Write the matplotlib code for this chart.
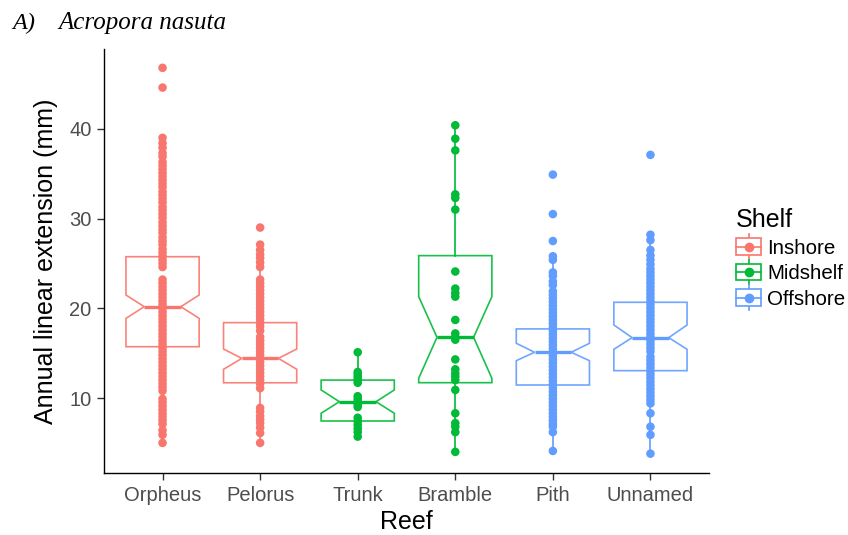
import matplotlib
matplotlib.use("Agg")
import matplotlib.pyplot as plt
from matplotlib.legend_handler import HandlerBase
from matplotlib.patches import Rectangle
from matplotlib.lines import Line2D

plt.rcParams['font.family'] = ['Liberation Sans', 'DejaVu Sans']

reefs = ['Orpheus', 'Pelorus', 'Trunk', 'Bramble', 'Pith', 'Unnamed']
shelf_of_reef = ['Inshore', 'Inshore', 'Midshelf', 'Midshelf', 'Offshore', 'Offshore']
shelves = ['Inshore', 'Midshelf', 'Offshore']
shelf_colors = {'Inshore': '#F8766D', 'Midshelf': '#00BA38', 'Offshore': '#619CFF'}

# annual linear extension (mm) per colony
orpheus = [46.8, 44.6, 39.0, 38.4, 37.9, 37.3, 36.9,
           36.3, 35.9, 35.5, 35.1, 34.7, 34.3, 33.9, 33.5, 33.0, 32.6, 32.2,
           31.8, 31.3, 30.9, 30.5, 30.1, 29.6, 29.2, 28.8, 28.4, 27.9, 27.5,
           27.1, 26.6, 26.2, 25.8, 25.4, 25.0, 24.6, 23.2, 22.8, 22.4, 22.0,
           21.6, 21.2, 20.8, 20.4, 20.0, 19.6, 19.2, 18.8, 18.4, 18.0, 17.6,
           17.2, 16.8, 16.4, 16.0, 15.6, 15.2, 14.8, 14.4, 14.0, 13.6, 13.2,
           12.8, 12.4, 12.0, 11.6, 11.2, 10.8, 9.9, 9.5, 9.1, 8.7, 8.3, 7.9,
           7.5, 7.1, 6.4, 5.9, 5.0]
pelorus = [29.0, 27.1, 26.5, 26.0, 25.6, 25.1, 24.6, 23.2, 22.8, 22.4, 22.0,
           21.6, 21.2, 20.8, 20.4, 20.0, 19.6, 19.2, 18.8, 18.4, 18.0, 17.5,
           16.8, 16.4, 16.0, 15.6, 15.2, 14.8, 14.4, 14.0, 13.6, 13.2, 12.8,
           12.4, 12.0, 11.6, 11.1, 8.9, 8.5, 8.0, 7.6, 7.2, 6.7, 6.1, 5.0]
trunk = [15.1, 12.9, 12.6, 12.3, 12.0, 11.7, 10.2, 9.9, 9.6, 9.3, 9.0,
         7.8, 7.4, 7.0, 6.6, 6.2, 5.7]
bramble = [40.4, 38.9, 37.6, 32.7, 32.3, 31.0, 24.1, 22.2, 21.7, 21.3, 18.7,
           17.2, 16.8, 16.5, 14.3, 13.2, 12.75, 12.4, 12.0, 10.9, 8.3, 7.2,
           6.8, 6.2, 4.0]
pith = [34.9, 30.5, 27.5, 25.8, 25.4, 24.0, 23.6, 23.0, 22.6, 21.9, 21.5,
        21.1, 20.7, 20.3, 19.9, 19.5, 19.1, 18.7, 18.3, 17.9, 17.5, 17.1,
        16.7, 16.3, 15.9, 15.5, 15.1, 14.7, 14.3, 13.9, 13.5, 13.1, 12.7,
        12.3, 11.9, 11.5, 11.1, 10.7, 10.3, 9.9, 9.5, 9.1, 8.7, 8.3, 7.9,
        7.5, 7.1, 6.8, 6.2, 4.1]
unnamed = [37.1, 28.2, 27.6, 26.5, 25.9, 25.4, 24.9, 24.4, 24.0, 23.6, 23.2,
           22.8, 22.4, 22.0, 21.6, 21.2, 20.8, 20.4, 20.0, 19.6, 19.2, 18.8,
           18.4, 18.0, 17.6, 17.2, 16.8, 16.4, 16.0, 15.6, 15.2, 14.6, 14.2,
           13.8, 13.4, 13.0, 12.6, 12.2, 11.8, 11.4, 11.0, 10.6, 10.2, 9.8,
           9.4, 8.3, 6.8, 5.9, 3.8]
values = [orpheus, pelorus, trunk, bramble, pith, unnamed]

# box summaries: lower hinge, median, upper hinge, notch limits, whisker ends
q1 = [15.72, 11.70, 7.44, 11.71, 11.45, 13.05]
med = [20.18, 14.42, 9.59, 16.77, 15.10, 16.73]
q3 = [25.75, 18.40, 12.00, 25.87, 17.70, 20.67]
ci_lo = [18.88, 13.20, 8.30, 12.20, 14.16, 15.43]
ci_hi = [21.48, 15.46, 10.90, 21.30, 16.10, 18.14]
whisk_lo = [5.0, 5.0, 5.7, 4.0, 4.1, 3.8]
whisk_hi = [39.0, 27.1, 15.1, 40.4, 25.8, 28.2]

W, H = 848, 535
fig = plt.figure(figsize=(W / 100, H / 100), dpi=100)
ax = fig.add_axes([104 / W, 1 - 473.3 / H, (709 - 104) / W, (473.3 - 49) / H])

positions = list(range(1, len(reefs) + 1))
for i, reef in enumerate(reefs):
    col = shelf_colors[shelf_of_reef[i]]
    stats = [dict(med=med[i], q1=q1[i], q3=q3[i], cilo=ci_lo[i], cihi=ci_hi[i],
                  whislo=whisk_lo[i], whishi=whisk_hi[i], fliers=[])]
    ax.bxp(stats, positions=[positions[i]], widths=0.75, shownotches=True,
           showcaps=False, showfliers=False, patch_artist=True,
           boxprops=dict(facecolor='white', edgecolor=col, linewidth=1.2, alpha=0.9),
           whiskerprops=dict(color=col, linewidth=1.2),
           medianprops=dict(color=col, linewidth=2.4),
           manage_ticks=False, zorder=2)
    ax.scatter([positions[i]] * len(values[i]), values[i], s=38, color=col,
               edgecolors='none', zorder=3)

ax.set_xlim(0.4, 6.6)
ax.set_ylim(1.61, 48.9)
ax.set_xticks(positions)
ax.set_xticklabels(reefs)
ax.set_yticks([10, 20, 30, 40])
for side in ['top', 'right']:
    ax.spines[side].set_visible(False)
for side in ['left', 'bottom']:
    ax.spines[side].set_color('black')
    ax.spines[side].set_linewidth(1.0)
ax.tick_params(axis='both', length=5, width=1.0, color='#333333',
               labelcolor='#4D4D4D', labelsize=14.5, pad=4)
ax.set_xlabel('Reef', fontsize=18, labelpad=4)
ax.set_ylabel('Annual linear extension (mm)', fontsize=18, labelpad=8)


class BoxKey(HandlerBase):
    def create_artists(self, legend, orig_handle, xdescent, ydescent,
                       width, height, fontsize, trans):
        col = orig_handle.get_color()
        cx = width / 2 - xdescent
        cy = height / 2 - ydescent
        whisk = Line2D([cx, cx], [cy - height * 0.75, cy + height * 0.75],
                       color=col, lw=1.2, transform=trans)
        box = Rectangle((cx - width / 2, cy - height * 0.5), width, height,
                        facecolor='white', edgecolor=col, lw=1.2, transform=trans)
        mid = Line2D([cx - width / 2, cx + width / 2], [cy, cy], color=col,
                     lw=1.2, transform=trans)
        dot = Line2D([cx], [cy], marker='o', markersize=6, color=col,
                     linestyle='none', transform=trans)
        return [whisk, box, mid, dot]


handles = [Line2D([], [], color=shelf_colors[s]) for s in shelves]
leg = fig.legend(handles, shelves, handler_map={Line2D: BoxKey()},
                 loc='upper left', bbox_to_anchor=(728 / W, 1 - 200 / H),
                 frameon=False, fontsize=14.8, title='Shelf', title_fontsize=18,
                 handlelength=1.2, handleheight=0.85, handletextpad=0.3,
                 labelspacing=0.3, borderaxespad=0)
leg._legend_box.align = 'left'

fig.text(12 / W, 1 - 23 / H, 'A)', fontsize=17.5, style='italic',
         family=['Liberation Serif'], va='center', ha='left')
fig.text(58 / W, 1 - 23 / H, 'Acropora nasuta', fontsize=18, style='italic',
         family=['Liberation Serif'], va='center', ha='left')

fig.savefig('out.png', dpi=100)
